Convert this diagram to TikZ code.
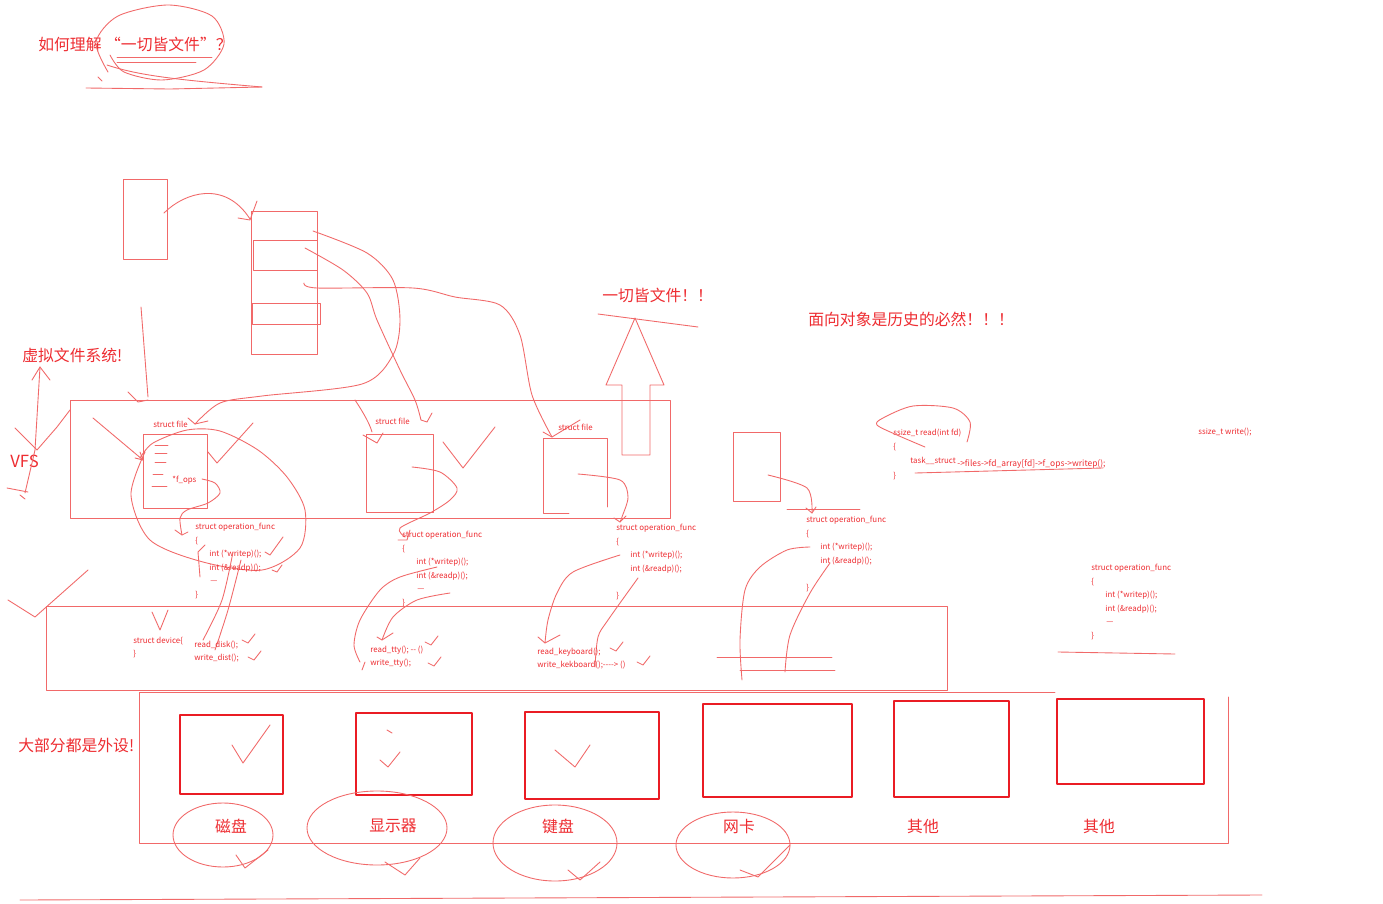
\documentclass[tikz,border=0pt]{standalone}
\usepackage{fontspec}
\setmainfont{Noto Sans CJK SC}
\usetikzlibrary{positioning}

\definecolor{inkred}{RGB}{238,45,50}
\definecolor{penred}{RGB}{241,105,105}
\definecolor{boxred}{RGB}{234,28,36}

\begin{document}
\begin{tikzpicture}[x=0.02cm,y=-0.02cm,line cap=round,line join=round]
    \tikzstyle{pen}=[draw=penred,line width=0.5pt]
    \tikzstyle{big}=[text=inkred,font=\fontsize{9}{10}\selectfont,inner sep=0pt,anchor=west]
    \tikzstyle{code}=[text=inkred,font=\fontsize{4.5}{5}\selectfont,inner sep=0pt,anchor=west]
    \tikzstyle{tiny}=[text=inkred,font=\fontsize{4.8}{5}\selectfont,inner sep=0pt,anchor=west]
    \tikzstyle{hw}=[draw=boxred,line width=1.5pt]

    \fill[white] (0,0) rectangle (1383,903);
    \useasboundingbox (0,0) rectangle (1383,903);

    % question at the top
    \node[big] (title) at (38,44) {如何理解 “一切皆文件”？};
    \draw[pen] plot[smooth] coordinates {(108,72) (96,42) (118,16) (168,5) (212,16) (224,44) (204,70) (162,80) (124,72) (110,55)};
    \draw[pen] (117,57) -- (212,57);
    \draw[pen] (117,62) -- (196,62);
    \draw[pen] (107,65) .. controls (140,76) and (180,80) .. (262,87);
    \draw[pen] (86,88) -- (170,89) -- (262,87);
    \draw[pen] (98,77) -- (102,81);

    % fd table and file array
    \draw[pen] (123,179) rectangle (167,259);
    \draw[pen] (251,211) rectangle (317,354);
    \draw[pen] (253,240) rectangle (317,270);
    \draw[pen] (252,303) rectangle (320,324);
    \draw[pen] (164,213) .. controls (185,192) and (225,180) .. (250,219);
    \draw[pen] (257,201) -- (250,220) -- (238,218);

    \draw[pen] plot[smooth] coordinates {(313,231) (367,253) (393,280) (400,320) (393,355) (362,384) (262,396) (220,403) (195,424)};
    \draw[pen] (188,418) -- (195,424) -- (208,421);
    \draw[pen] plot[smooth] coordinates {(305,248) (343,270) (367,293) (377,320) (400,370) (415,400) (421,420)};
    \draw[pen] (421,420) -- (427,422) -- (432,413);
    \draw[pen] plot[smooth] coordinates {(304,283) (317,288) (413,288) (455,297) (500,305) (520,335) (532,395) (552,437)};
    \draw[pen] (543,432) -- (552,437) -- (580,420);
    \draw[pen] (141,307) -- (148,397);
    \draw[pen] (128,392) -- (138,402) -- (148,400);

    % labels on the left
    \node[big] (vfs-lbl) at (22,355) {虚拟文件系统!};
    \node[big,font=\fontsize{9.5}{10}\selectfont] (vfs) at (10,461) {VFS};
    \draw[pen] (25,493) -- (35,450) -- (40,367);
    \draw[pen] (32,380) -- (40,367) -- (50,380);
    \draw[pen] (15,428) -- (37,450) -- (57,427) -- (70,410);
    \draw[pen] (7,488) -- (28,492);
    \draw[pen] (20,495) -- (25,499);

    % vfs layer
    \draw[pen] (70,400) rectangle (670,518);
    \node[code] (file-1) at (153,424) {struct file};
    \node[code] (file-2) at (375,421) {struct file};
    \node[code] (file-3) at (558,427) {struct file};
    \draw[pen] (143,434) rectangle (207,508);
    \draw[pen] (366,434) rectangle (433,512);
    \draw[pen] (569,513) -- (543,513) -- (543,438) -- (607,438) -- (607,507);
    \foreach \y/\a/\b in {445/155/168, 453/155/167, 462/155/166, 474/153/163, 486/152/167}
        \draw[pen] (\a,\y) -- (\b,\y);
    \node[code] (fops) at (172,480) {*f\_ops};
    \draw[pen] (93,418) -- (143,460);
    \draw[pen] (135,458) -- (143,460) -- (140,452);
    \draw[pen] plot[smooth] coordinates {(145,452) (131,495) (150,540) (203,562) (262,570) (300,548) (305,510) (287,477) (258,450) (220,431) (187,430) (153,443) (140,458)};
    \draw[pen] plot[smooth] coordinates {(202,479) (215,483) (220,493) (208,503) (187,510) (180,518) (182,535)};
    \draw[pen] (175,530) -- (182,535) -- (188,532);
    \draw[pen] (208,452) -- (217,463) -- (253,423);
    \draw[pen] (355,400) .. controls (365,415) and (370,425) .. (372,432);
    \draw[pen] (363,435) -- (377,443) -- (383,433);
    \draw[pen] (443,442) -- (463,468) -- (495,427);
    \draw[pen] plot[smooth] coordinates {(412,467) (440,472) (457,488) (450,500) (430,513) (400,528) (405,537)};
    \draw[pen] (398,540) -- (407,540) -- (410,530);
    \draw[pen] plot[smooth] coordinates {(578,474) (620,480) (628,497) (622,517) (620,522)};
    \draw[pen] (614,518) -- (620,522) -- (626,516);

    % up arrow and remarks
    \draw[pen] (622,455) -- (622,385) -- (606,385) -- (635,318) -- (664,385) -- (650,385) -- (650,455) -- cycle;
    \node[big] (slogan) at (602,295) {一切皆文件！！};
    \draw[pen] (598,314) -- (698,327);
    \node[big] (oop) at (808,319) {面向对象是历史的必然！！！};

    \draw[pen] (733,432) rectangle (780,501);
    \draw[pen] plot[smooth] coordinates {(768,475) (807,488) (812,513)};
    \draw[pen] (806,508) -- (812,513) -- (816,507);
    \draw[pen] (787,509) -- (860,509);

    % read() path
    \node[code] (read) at (893,433) {ssize\_t read(int fd)};
    \node[code] (read-open) at (893,447) {\{};
    \node[code] (task) at (910,461) {task\_\_struct};
    \node[tiny] (chain) at (957,464) {-{}>files-{}>fd\_array[fd]-{}>f\_ops-{}>writep();};
    \node[code] (read-close) at (893,476) {\}};
    \node[code] (write) at (1198,432) {ssize\_t write();};
    \draw[pen] plot[smooth] coordinates {(925,447) (897,435) (877,425) (883,418) (913,406) (953,408) (970,422) (967,442)};
    \draw[pen] (915,473) -- (1103,468);

    % operation tables
    \foreach \n/\x/\y in {1/195/527, 2/402/535, 3/616/528, 4/806/520, 5/1091/568} {
        \node[code] (op-\n) at (\x,\y) {struct operation\_func};
        \node[code] (op-\n-open) at (\x,\y+14) {\{};
        \node[code] (op-\n-w) at (\x+14,\y+27) {int (*writep)();};
        \node[code] (op-\n-r) at (\x+14,\y+41) {int (\&readp)();};
        \node[code] (op-\n-close) at (\x,\y+68) {\}};
    }
    \foreach \n/\x/\y in {1/195/527, 2/402/535, 5/1091/568}
        \node[code] (op-\n-more) at (\x+15,\y+55) {—};
    \draw[pen] (1058,652) -- (1175,654);

    % hand strokes down to the drivers
    \draw[pen] (205,545) -- (198,552) -- (200,577);
    \draw[pen] (265,552) -- (270,555) -- (283,537);
    \draw[pen] (272,570) -- (277,572) -- (282,565);
    \draw[pen] plot[smooth] coordinates {(233,552) (222,600) (203,640)};
    \draw[pen] plot[smooth] coordinates {(241,560) (228,610) (215,650)};
    \draw[pen] plot[smooth] coordinates {(437,567) (400,577) (380,590) (360,620) (354,645) (360,662)};
    \draw[pen] (365,662) -- (362,670);
    \draw[pen] plot[smooth] coordinates {(450,593) (417,600) (393,617) (382,640)};
    \draw[pen] (377,637) -- (382,640) -- (393,633);
    \draw[pen] plot[smooth] coordinates {(620,555) (573,572) (557,593) (548,620) (545,643)};
    \draw[pen] (538,637) -- (545,643) -- (560,635);
    \draw[pen] plot[smooth] coordinates {(638,578) (608,620) (598,637) (595,667)};
    \draw[pen] plot[smooth] coordinates {(810,547) (787,550) (760,567) (745,590) (740,640) (742,680)};
    \draw[pen] plot[smooth] coordinates {(830,563) (810,593) (790,635) (785,672)};
    \draw[pen] (717,657) -- (832,657);
    \draw[pen] (740,670) -- (835,670);

    % driver layer
    \draw[pen] (46,606) rectangle (947,690);
    \draw[pen] (8,600) -- (35,617) -- (88,570);
    \node[code] (dev) at (133,641) {struct device\{};
    \node[code] (dev-close) at (133,654) {\}};
    \draw[pen] (152,612) -- (160,630) -- (168,610);
    \node[code] (rd-disk) at (194,645) {read\_disk();};
    \node[code] (wr-disk) at (194,658) {write\_dist();};
    \node[code] (rd-tty) at (370,650) {read\_tty(); -{}- ()};
    \node[code] (wr-tty) at (370,663) {write\_tty();};
    \node[code] (rd-kbd) at (537,652) {read\_keyboard();};
    \node[code] (wr-kbd) at (537,665) {write\_kekboard();-{}-{}-{}-> ()};
    \foreach \a/\b in {242/640, 248/657, 425/642, 428/663, 610/648, 637/662}
        \draw[pen] (\a,\b) -- (\a+6,\b+3) -- (\a+13,\b-6);

    % devices
    \draw[pen] (1055,692) -- (139,692) -- (139,843) -- (1228,843) -- (1228,697);
    \foreach \n/\xa/\ya/\xb/\yb/\lbl/\xl in {1/180/715/283/794/磁盘/231, 2/356/713/472/795/显示器/393, 3/525/712/659/799/键盘/558, 4/703/704/852/797/网卡/739, 5/894/701/1009/797/其他/923, 6/1057/699/1204/784/其他/1099} {
        \draw[hw] (\xa,\ya) rectangle (\xb,\yb);
        \node[big,anchor=center] (hw-\n) at (\xl,826) {\lbl};
    }
    \node[big] (periph) at (18,745) {大部分都是外设!};
    \draw[pen] (232,745) -- (243,763) -- (270,725);
    \draw[pen] (380,760) -- (388,767) -- (400,752);
    \draw[pen] (387,730) -- (392,733);
    \draw[pen] (555,750) -- (575,767) -- (590,745);
    \draw[pen] (223,835) ellipse [x radius=50, y radius=32];
    \draw[pen] (377,828) ellipse [x radius=70, y radius=37];
    \draw[pen] (555,843) ellipse [x radius=62, y radius=38];
    \draw[pen] (733,845) ellipse [x radius=57, y radius=33];
    \draw[pen] (236,855) -- (245,868) -- (268,850);
    \draw[pen] (385,862) -- (405,875) -- (420,858);
    \draw[pen] (568,870) -- (580,880) -- (600,862);
    \draw[pen] (740,870) -- (758,877) -- (790,845);
    \draw[pen] (20,900) -- (1262,895);
\end{tikzpicture}
\end{document}
